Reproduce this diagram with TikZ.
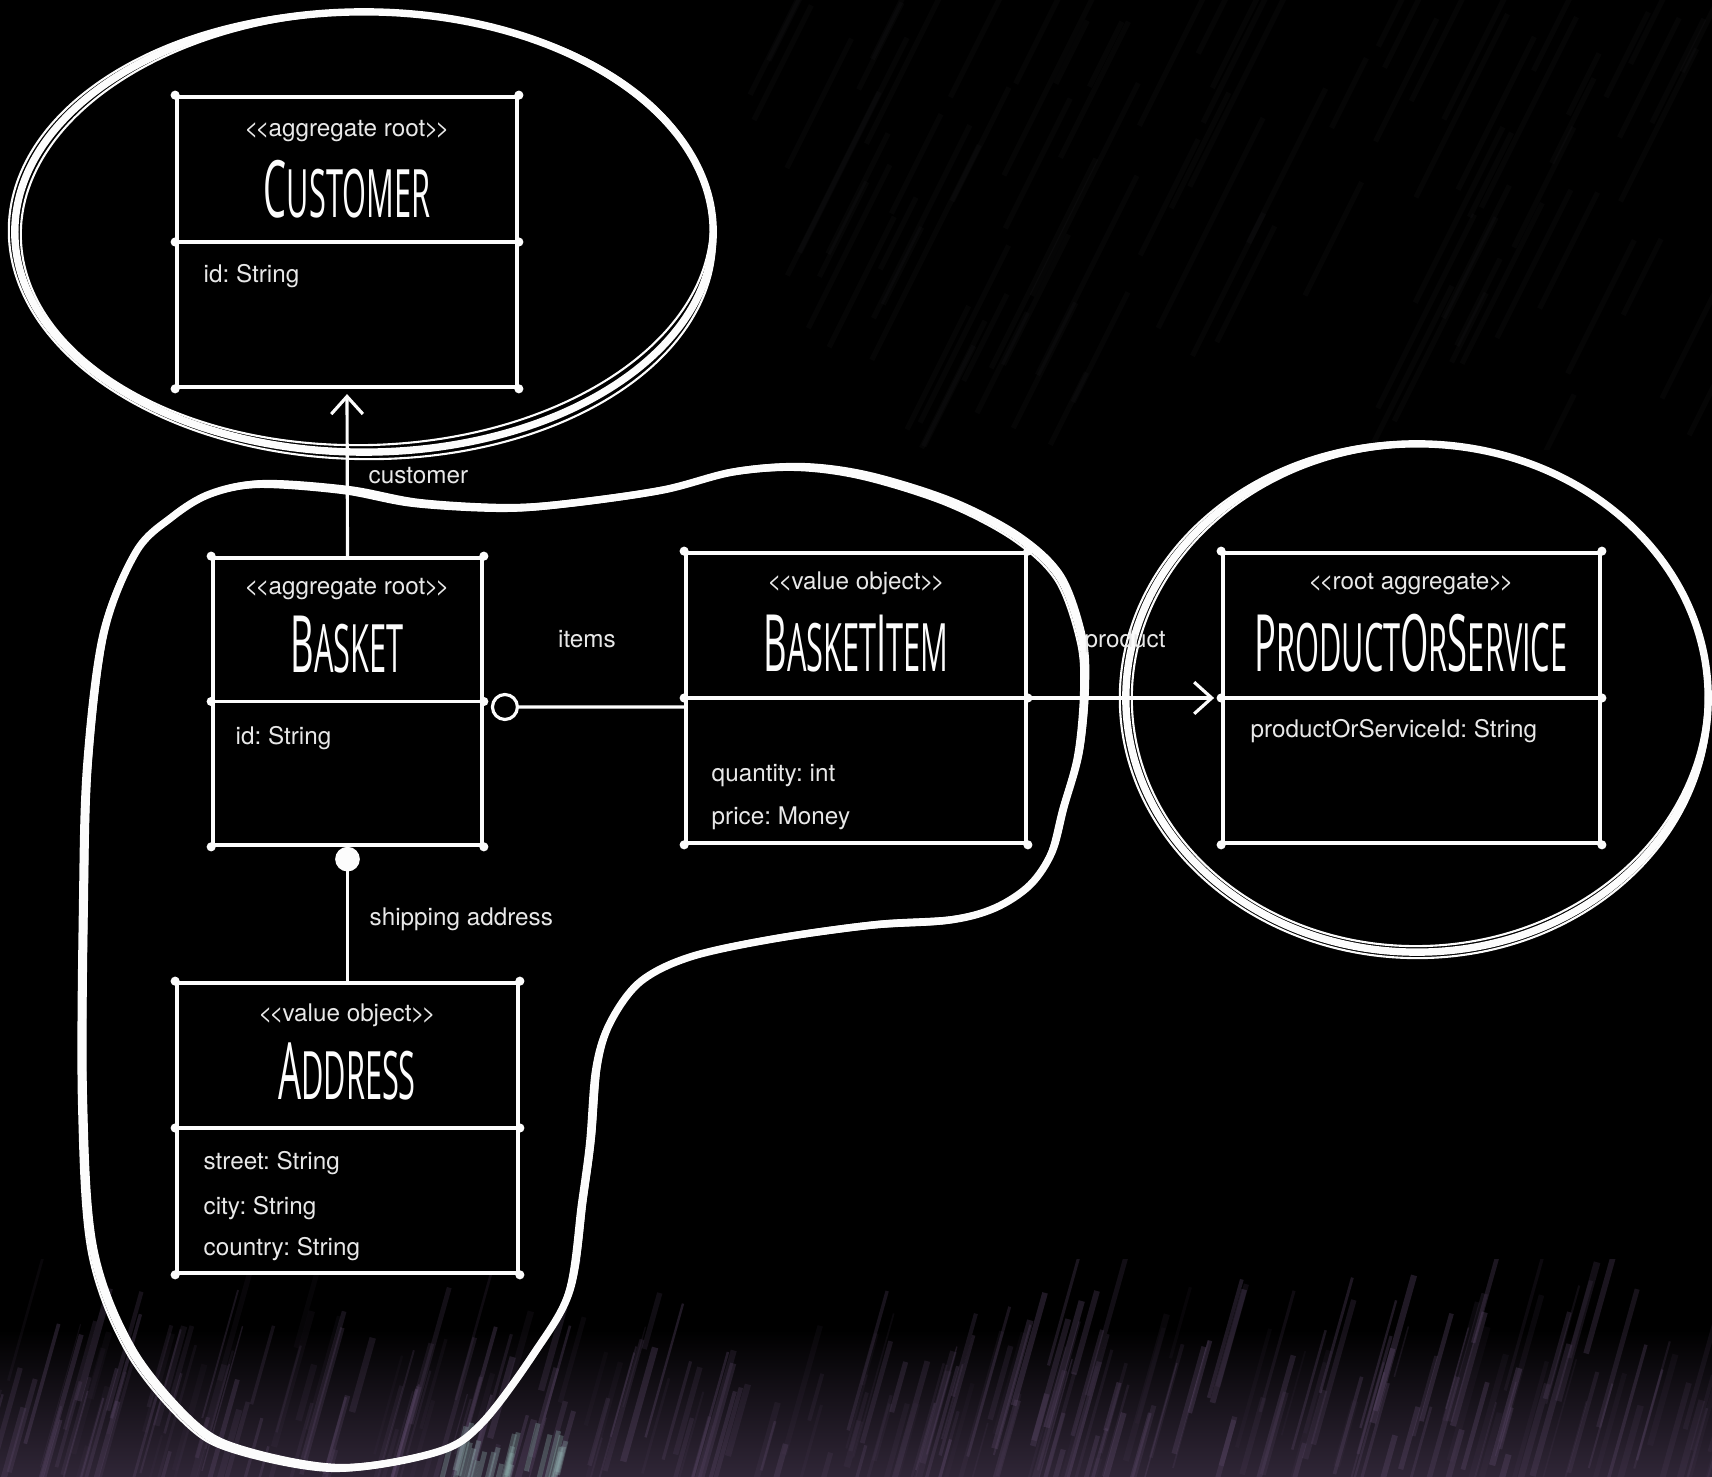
\documentclass[tikz,border=0pt]{standalone}
\usepackage{fontspec}
\setmainfont{TeX Gyre Heros}[Ligatures=TeXOff]
\newfontfamily\handfont[FakeStretch=0.46]{Open Sans}
\usetikzlibrary{arrows.meta,calc}
\frenchspacing

\definecolor{chalk}{RGB}{252,252,252}
\definecolor{chalktext}{RGB}{232,232,232}
\definecolor{dusk}{RGB}{96,76,110}
\definecolor{mist}{RGB}{150,185,182}
\definecolor{smoke}{RGB}{60,58,66}

% hand-lettered class names: tall initials, smaller remaining capitals
\newcommand\TitBig[1]{{\fontsize{22.5}{22}\selectfont #1}}
\newcommand\TitSmall[1]{{\fontsize{19}{19}\selectfont #1}}
% tightly set stereotype brackets
\newcommand\StereoName[1]{<\kern-0.13em<\kern-0.04em#1\kern-0.04em>\kern-0.13em>}

\tikzset{
  classbox/.style={draw=chalk, line width=1pt, fill=black, rectangle, inner sep=0pt},
  rule/.style={draw=chalk, line width=1pt},
  stereo/.style={font=\fontsize{6.9}{8}\selectfont, text=chalktext, anchor=base, inner sep=0pt},
  attr/.style={font=\fontsize{6.9}{8}\selectfont, text=chalktext, anchor=base west, inner sep=0pt},
  lbl/.style={font=\fontsize{6.9}{8}\selectfont, text=chalktext, inner sep=0pt},
  ttl/.style={font=\handfont, text=chalk, anchor=base, inner sep=0pt},
  conn/.style={draw=chalk, line width=0.9pt},
  ring/.style={draw=chalk, line width=2.1pt, line cap=round, line join=round},
  ringthin/.style={draw=chalk, line width=0.6pt, line cap=round},
}

\begin{document}
\begin{tikzpicture}[x=0.01cm, y=-0.01cm]
  % backdrop
  \fill[black] (0,0) rectangle (1712,1477);
  \useasboundingbox (0,0) rectangle (1712,1477);

  % dusky streaks along the lower edge
  \begin{scope}
    \clip (0,1260) rectangle (1712,1477);
    \shade[top color=black, bottom color=dusk!50!black] (0,1330) rectangle (1712,1477);
    \pgfmathsetseed{42}
    \foreach \i in {1,...,300}{
      \pgfmathsetmacro{\sx}{rnd*1800-60}
      \pgfmathsetmacro{\sy}{1500-160*rnd*rnd}
      \pgfmathsetmacro{\sl}{40+110*rnd}
      \pgfmathsetmacro{\op}{0.06+0.28*rnd}
      \pgfmathsetmacro{\lw}{0.3+1.6*rnd}
      \draw[dusk, opacity=\op, line width=\lw pt] (\sx,\sy) -- ++(0.28*\sl,-\sl);
    }
    \foreach \i in {1,...,25}{
      \pgfmathsetmacro{\sx}{440+120*rnd}
      \pgfmathsetmacro{\sy}{1490-20*rnd}
      \pgfmathsetmacro{\sl}{15+40*rnd}
      \draw[mist, opacity=0.3, line width=1.4pt] (\sx,\sy) -- ++(0.25*\sl,-\sl);
    }
  \end{scope}

  % faint haze in the upper right
  \begin{scope}
    \clip (700,0) rectangle (1712,450);
    \pgfmathsetseed{7}
    \foreach \i in {1,...,90}{
      \pgfmathsetmacro{\sx}{750+980*rnd}
      \pgfmathsetmacro{\sy}{40+420*rnd}
      \pgfmathsetmacro{\sl}{60+160*rnd}
      \draw[smoke, opacity=0.09, line width=1.5pt] (\sx,\sy) -- ++(0.5*\sl,-\sl);
    }
  \end{scope}

  % aggregate boundary: Customer
  \draw[ring] (364,232) ellipse [x radius=3.49cm, y radius=2.20cm];
  \draw[ringthin, rotate around={1.5:(364,232)}] (366,229) ellipse [x radius=3.45cm, y radius=2.16cm];
  \draw[ringthin, rotate around={-1.2:(364,232)}] (362,235) ellipse [x radius=3.53cm, y radius=2.24cm];

  % aggregate boundary: ProductOrService
  \draw[ring] (1417,698) ellipse [x radius=2.91cm, y radius=2.54cm];
  \draw[ringthin, rotate around={2:(1417,698)}] (1419,696) ellipse [x radius=2.87cm, y radius=2.50cm];
  \draw[ringthin, rotate around={-1.5:(1417,698)}] (1415,700) ellipse [x radius=2.95cm, y radius=2.58cm];

  % aggregate boundary: Basket, BasketItem and Address
  \def\blobpts{(104,633) (136,552) (172,517) (210,494) (261,484) (346,490)
    (417,503) (506,508) (573,503) (663,490) (733,472) (800,467) (867,476)
    (950,502) (1017,537) (1060,578) (1082,640) (1085,690) (1079,753)
    (1064,807) (1052,852) (1030,885) (995,908) (950,920) (873,925)
    (773,939) (690,957) (640,982) (610,1023) (597,1067) (591,1140)
    (583,1200) (570,1290) (535,1352) (482,1423) (437,1452) (338,1468)
    (240,1450) (191,1423) (131,1350) (93,1250) (83,1100) (84,900) (88,764)}
  \draw[ring] plot[smooth cycle, tension=0.55] coordinates {\blobpts};
  \draw[ringthin, xshift=0.03cm, yshift=0.03cm] plot[smooth cycle, tension=0.55] coordinates {\blobpts};
  \draw[ringthin, xshift=-0.04cm, yshift=-0.03cm] plot[smooth cycle, tension=0.55] coordinates {\blobpts};

  % classes
  \node[classbox, minimum width=3.40cm, minimum height=2.90cm] (cust)   at (347,242)   {};
  \node[classbox, minimum width=2.69cm, minimum height=2.87cm] (basket) at (347.5,701.5) {};
  \node[classbox, minimum width=3.40cm, minimum height=2.90cm] (item)   at (856,698)   {};
  \node[classbox, minimum width=3.77cm, minimum height=2.90cm] (prod)   at (1411.5,698) {};
  \node[classbox, minimum width=3.41cm, minimum height=2.90cm] (addr)   at (347.5,1128) {};

  % compartment rules and the knotted corners of the pen strokes
  \foreach \n in {cust,basket,item,prod,addr}{
    \draw[rule] (\n.west) -- (\n.east);
    \foreach \a in {north west,north east,south west,south east,west,east}
      \fill[chalk] (\n.\a) circle (1.3pt);
  }

  % Customer
  \node[stereo] (custst) at (347,137) {\StereoName{aggregate root}};
  \node[ttl] (custtl) at (347,218) {\TitBig{C}\TitSmall{USTOMER}};
  \node[attr] (custa1) at (203,283) {id: String};

  % Basket
  \node[stereo] (basketst) at (347,595) {\StereoName{aggregate root}};
  \node[ttl] (baskettl) at (347,673) {\TitBig{B}\TitSmall{ASKET}};
  \node[attr] (basketa1) at (235,745) {id: String};

  % BasketItem
  \node[stereo] (itemst) at (856,590) {\StereoName{value object}};
  \node[ttl] (itemtl) at (856,672) {\TitBig{B}\TitSmall{ASKET}\TitBig{I}\TitSmall{TEM}};
  \node[attr] (itema1) at (711,782) {quantity: int};
  \node[attr] (itema2) at (711,825) {price: Money};

  % ProductOrService
  \node[stereo] (prodst) at (1411,590) {\StereoName{root aggregate}};
  \node[ttl] (prodtl) at (1411,672) {\TitBig{P}\TitSmall{RODUCT}\TitBig{O}\TitSmall{R}\TitBig{S}\TitSmall{ERVICE}};
  \node[attr] (proda1) at (1250,738) {productOrServiceId: String};

  % Address
  \node[stereo] (addrst) at (347,1022) {\StereoName{value object}};
  \node[ttl] (addrtl) at (347,1100) {\TitBig{A}\TitSmall{DDRESS}};
  \node[attr] (addra1) at (203,1170) {street: String};
  \node[attr] (addra2) at (203,1215) {city: String};
  \node[attr] (addra3) at (203,1255) {country: String};

  % associations
  \draw[conn, -{Straight Barb[length=5pt,width=9pt,line width=0.9pt]}, shorten >=1.5pt]
    (basket.north) -- (cust.south);
  \draw[conn, {Circle[open,length=8pt,width=8pt,line width=0.9pt]}-, shorten <=2pt]
    ([yshift=-0.055cm]basket.east) -- ([yshift=-0.09cm]item.west);
  \draw[conn, -{Straight Barb[length=5pt,width=9pt,line width=0.9pt]}, shorten >=2pt]
    (item.east) -- (prod.west);
  \draw[conn, -{Circle[length=7pt,width=7pt]}]
    (addr.north) -- (basket.south);

  % association labels
  \node[lbl, anchor=base west] (lblcust) at (368,484) {customer};
  \node[lbl, anchor=base] (lblitems) at (587,648) {items};
  \node[lbl, anchor=base west] (lblprod) at (1084,648) {product};
  \node[lbl, anchor=base west] (lblship) at (369,926) {shipping address};
\end{tikzpicture}
\end{document}
